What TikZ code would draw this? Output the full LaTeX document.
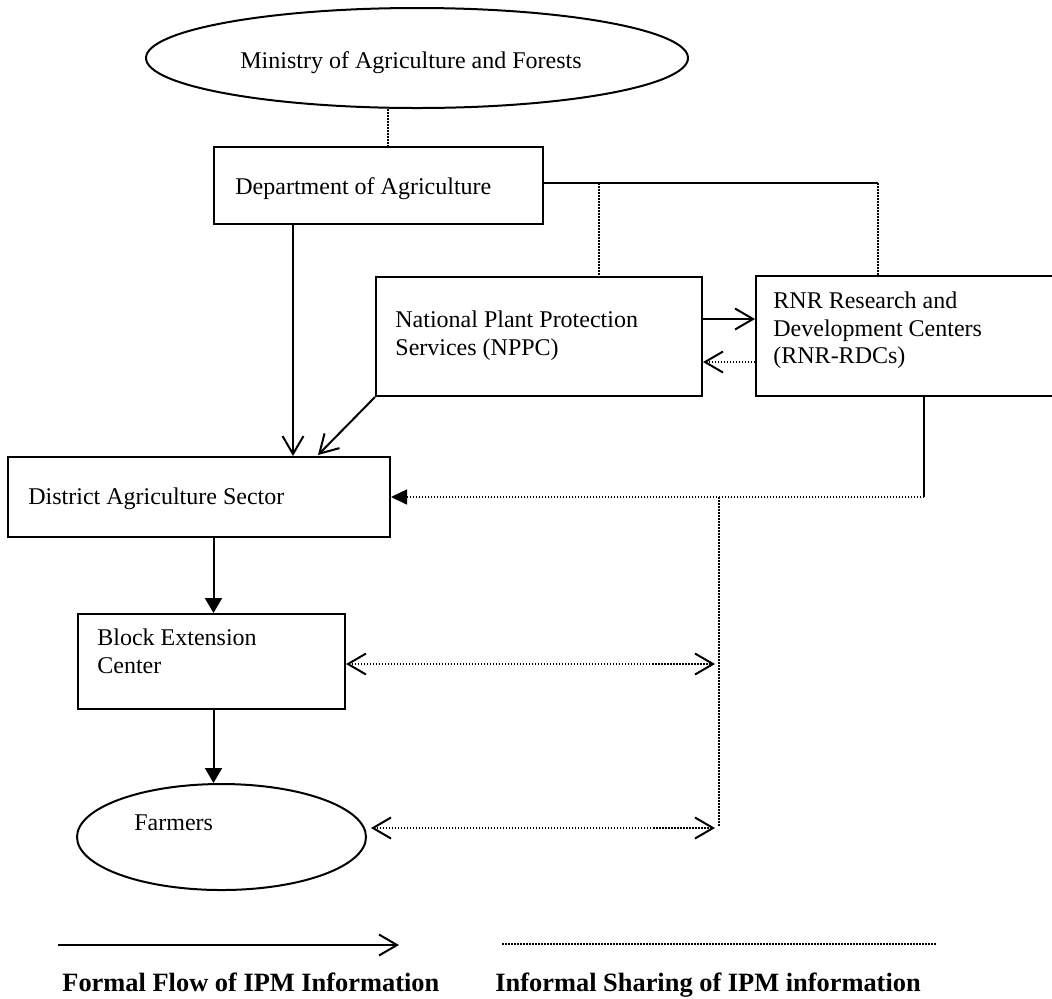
\documentclass[tikz,border=0pt]{standalone}
\usepackage{fontspec}
\setmainfont{Liberation Serif}
\usetikzlibrary{arrows.meta,shapes.geometric}
\tikzset{
  boxnode/.style={draw, line width=1pt, rectangle, anchor=north west, inner sep=0pt},
  ovalnode/.style={draw, line width=1pt, ellipse, inner sep=0pt},
  txt/.style={anchor=base west, inner sep=0pt, font=\fontsize{12}{14}\selectfont},
  legtxt/.style={anchor=base west, inner sep=0pt, font=\fontsize{13.2}{16}\selectfont\bfseries},
  formal/.style={line width=1pt, -{Straight Barb[length=9pt,width=10.5pt,line width=1pt]}},
  formalfill/.style={line width=1pt, -{Triangle[length=7.5pt,width=8.5pt]}},
  solidline/.style={line width=1pt},
  informal/.style={line width=0.75pt, dash pattern=on 0.75pt off 0.75pt},
  infarrow/.style={informal, -{Straight Barb[length=9pt,width=10.5pt,line width=1pt]}},
  infboth/.style={informal, {Straight Barb[length=9pt,width=10.5pt,line width=1pt]}-{Straight Barb[length=9pt,width=10.5pt,line width=1pt]}},
  inffill/.style={informal, -{Triangle[length=8pt,width=7.5pt,line width=0.8pt]}}
}
\begin{document}
\begin{tikzpicture}[x=0.5pt,y=-0.5pt]
\clip (0,0) rectangle (1052,998);
\useasboundingbox (0,0) rectangle (1052,998);

% nodes
\node[ovalnode, minimum width=271pt, minimum height=50pt] (min) at (417,58) {};
\node[txt] (mintxt) at (240,68) {Ministry of Agriculture and Forests};

\node[boxnode, minimum width=164.5pt, minimum height=38.5pt] (dept) at (213,146) {};
\node[txt] (depttxt) at (235,194) {Department of Agriculture};

\node[boxnode, minimum width=163pt, minimum height=59.5pt] (nppc) at (375,276) {};
\node[txt] (nppct1) at (395,327) {National Plant Protection};
\node[txt] (nppct2) at (395,355) {Services (NPPC)};

\node[boxnode, minimum width=153pt, minimum height=60pt] (rnr) at (755,275) {};
\node[txt] (rnrt1) at (773,308) {RNR Research and};
\node[txt] (rnrt2) at (773,336) {Development Centers};
\node[txt] (rnrt3) at (773,363) {(RNR-RDCs)};

\node[boxnode, minimum width=191pt, minimum height=40pt] (das) at (7,456) {};
\node[txt] (dastxt) at (28,504) {District Agriculture Sector};

\node[boxnode, minimum width=133.5pt, minimum height=47.5pt] (bec) at (77,613) {};
\node[txt] (bect1) at (97,645) {Block Extension};
\node[txt] (bect2) at (97,673) {Center};

\node[ovalnode, minimum width=144.5pt, minimum height=53pt] (farm) at (221.5,837) {};
\node[txt] (farmtxt) at (134,830) {Farmers};

% helper coordinates
\coordinate (xmin) at (388,0);
\coordinate (xnp) at (599,0);
\coordinate (xrn) at (878,0);
\coordinate (xdd) at (293,0);
\coordinate (ydept) at (0,183);
\coordinate (ylink) at (0,319);
\coordinate (yback) at (0,362);
\coordinate (xrv) at (924,0);
\coordinate (yh) at (0,497);
\coordinate (xdown) at (213.5,0);
\coordinate (ybec) at (0,664);
\coordinate (yfarm) at (0,828);
\coordinate (jn) at (719,497);
\coordinate (rn) at (924,497);
\coordinate (vend) at (719,826);
\coordinate (be) at (715,664);
\coordinate (fe) at (715,828);
\coordinate (dtip) at (318,455);
\coordinate (top) at (878,183);

% connectors
\draw[informal] (min.south -| xmin) -- (dept.north -| xmin);
\draw[solidline] (dept.east |- ydept) -- (top);
\draw[informal] (ydept -| xnp) -- (nppc.north -| xnp);
\draw[informal] (top) -- (rnr.north -| xrn);
\draw[formal] (dept.south -| xdd) -- (das.north -| xdd);
\draw[formal] (nppc.south west) -- (dtip);
\draw[formal] (nppc.east |- ylink) -- (rnr.west |- ylink);
\draw[infarrow] (rnr.west |- yback) -- (nppc.east |- yback);
\draw[solidline] (rnr.south -| xrv) -- (rn);
\draw[inffill] (rn) -- (das.east |- yh);
\draw[informal] (jn) -- (vend);
\draw[infboth] (bec.east |- ybec) -- (be);
\draw[infboth] ([xshift=2pt]farm.east |- yfarm) -- (fe);
\draw[formalfill] (das.south -| xdown) -- (bec.north -| xdown);
\draw[formalfill] (bec.south -| xdown) -- (farm.north -| xdown);

% legend
\coordinate (l1a) at (58,945);
\coordinate (l1b) at (399,945);
\coordinate (l2a) at (502,944);
\coordinate (l2b) at (936,944);
\draw[formal] (l1a) -- (l1b);
\draw[informal] (l2a) -- (l2b);
\node[legtxt] (leg1) at (62,991) {Formal Flow of IPM Information};
\node[legtxt] (leg2) at (495,991) {Informal Sharing of IPM information};
\end{tikzpicture}
\end{document}
